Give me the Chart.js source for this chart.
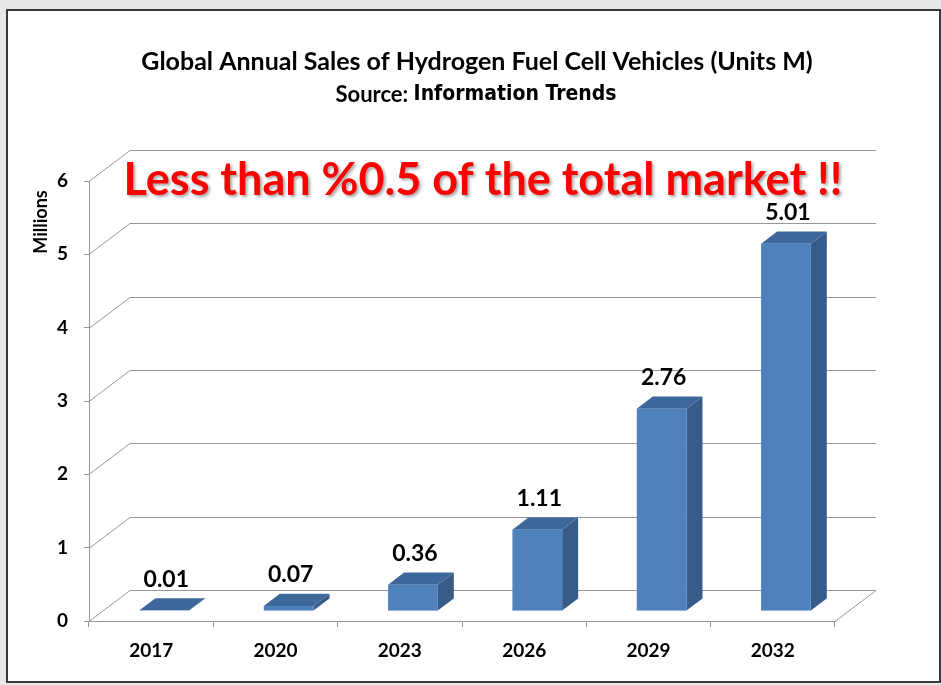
<!DOCTYPE html>
<html><head><meta charset="utf-8">
<script src="https://cdn.jsdelivr.net/npm/chart.js@4.4.1/dist/chart.umd.min.js"></script>
<style>
html,body{margin:0;padding:0;width:941px;height:685px;overflow:hidden;background:#e8e8e8;}
#frame{position:absolute;left:6px;top:9px;width:931px;height:670px;border:2px solid #3a3a3a;background:#fff;}
#wrap{position:absolute;left:0;top:0;width:941px;height:685px;}
</style></head><body>
<div id="frame"></div>
<div id="wrap"><canvas id="c" width="941" height="685"></canvas></div>
<script>
const categories = ['2017', '2020', '2023', '2026', '2029', '2032'];
const sales = [0.01, 0.07, 0.36, 1.11, 2.76, 5.01];
const yTicks = [0, 1, 2, 3, 4, 5, 6];
const titleText = 'Global Annual Sales of Hydrogen Fuel Cell Vehicles (Units M)';
const sourceLabel = 'Source: ';
const sourceName = 'Information Trends';
const noteText = 'Less than %0.5 of the total market !!';
const yAxisTitle = 'Millions';

const DX = 41, DY = -31;       // depth of the 3D box
const F0 = 0.32, F1 = 0.71;    // bar front / back depth fraction
const GRID = '#979797';

const threeD = {
  id: 'threeD',
  beforeDatasetsDraw(chart) {
    const ctx = chart.ctx, ca = chart.chartArea, y = chart.scales.y;
    ctx.save();
    ctx.strokeStyle = GRID; ctx.lineWidth = 1;
    ctx.beginPath();
    yTicks.forEach(v => {
      const py = Math.round(y.getPixelForValue(v)) + 0.5;
      ctx.moveTo(ca.left, py);
      ctx.lineTo(ca.left + DX, py + DY);
      ctx.lineTo(ca.right + DX, py + DY);
    });
    const pb = Math.round(y.getPixelForValue(0)) + 0.5;
    ctx.moveTo(ca.right, pb);
    ctx.lineTo(ca.right + DX, pb + DY);
    ctx.stroke();
    ctx.restore();
  },
  afterDatasetsDraw(chart) {
    const ctx = chart.ctx;
    const meta = chart.getDatasetMeta(0);
    const ddx = DX * (F1 - F0), ddy = DY * (F1 - F0);
    ctx.save();
    meta.data.forEach((el, i) => {
      const w = el.width;
      const x0 = el.x - w / 2 + DX * F0, x1 = el.x + w / 2 + DX * F0;
      const yT = el.y + DY * F0, yB = el.base + DY * F0;
      // side
      ctx.fillStyle = '#385c89';
      ctx.beginPath();
      ctx.moveTo(x1, yB); ctx.lineTo(x1 + ddx, yB + ddy);
      ctx.lineTo(x1 + ddx, yT + ddy); ctx.lineTo(x1, yT); ctx.closePath(); ctx.fill();
      // top
      ctx.fillStyle = '#3e679b';
      ctx.beginPath();
      ctx.moveTo(x0, yT); ctx.lineTo(x1, yT);
      ctx.lineTo(x1 + ddx, yT + ddy); ctx.lineTo(x0 + ddx, yT + ddy); ctx.closePath(); ctx.fill();
      // front
      ctx.fillStyle = '#4f81bd';
      ctx.fillRect(x0, yT, x1 - x0, yB - yT);
      // label
      ctx.fillStyle = '#000';
      ctx.font = 'bold 23px Lato';
      ctx.textAlign = 'center'; ctx.textBaseline = 'middle';
      ctx.fillText(sales[i].toFixed(2), (x0 + x1) / 2 + 2, yT + ddy - 19);
    });
    ctx.restore();
  },
  afterDraw(chart) {
    const ctx = chart.ctx;
    ctx.save();
    // source line
    ctx.textBaseline = 'middle'; ctx.textAlign = 'left'; ctx.fillStyle = '#000';
    ctx.font = 'bold 22px Lato';
    const w1 = ctx.measureText(sourceLabel).width;
    ctx.font = 'bold 21px "DejaVu Sans Condensed"';
    const w2 = ctx.measureText(sourceName).width;
    const sx = 476 - (w1 + w2) / 2;
    ctx.font = 'bold 22px Lato';
    ctx.fillText(sourceLabel, sx, 95);
    ctx.font = 'bold 21px "DejaVu Sans Condensed"';
    ctx.fillText(sourceName, sx + w1, 95);
    // note
    ctx.font = 'bold 45px Lato';
    ctx.textAlign = 'center';
    ctx.shadowColor = 'rgba(0,0,0,0.35)'; ctx.shadowOffsetX = 2; ctx.shadowOffsetY = 2; ctx.shadowBlur = 3;
    ctx.fillStyle = '#ff0000';
    ctx.fillText(noteText, 483, 180);
    ctx.shadowColor = 'transparent';
    // y axis title
    ctx.fillStyle = '#000';
    ctx.font = 'bold 18px Lato';
    ctx.translate(41, 222); ctx.rotate(-Math.PI / 2);
    ctx.fillText(yAxisTitle, 0, 0);
    ctx.restore();
  }
};

new Chart(document.getElementById('c'), {
  type: 'bar',
  data: {
    labels: categories,
    datasets: [{
      data: sales,
      backgroundColor: 'rgba(0,0,0,0)',
      borderWidth: 0,
      barPercentage: 0.4,
      categoryPercentage: 1.0
    }]
  },
  options: {
    responsive: false,
    devicePixelRatio: 1,
    animation: false,
    layout: { padding: { left: 13, right: 0, top: 0, bottom: 0 } },
    plugins: {
      legend: { display: false },
      tooltip: { enabled: false },
      title: {
        display: true,
        text: titleText,
        color: '#000',
        font: { family: 'Lato', size: 25, weight: 'bold', lineHeight: 1.2 },
        padding: { top: 47, bottom: 104 }
      }
    },
    scales: {
      x: {
        grid: { offset: true, drawOnChartArea: false, drawTicks: true, tickLength: 6, color: GRID },
        border: { color: GRID },
        ticks: { color: '#000', font: { family: 'Lato', size: 19, weight: 'bold' }, padding: 12 },
        afterFit(a) { a.height = 64; }
      },
      y: {
        min: 0, max: 6,
        afterBuildTicks(a) { a.ticks = yTicks.map(v => ({ value: v })); },
        grid: { drawOnChartArea: false, drawTicks: true, tickLength: 5, color: GRID },
        border: { color: GRID },
        ticks: { color: '#000', font: { family: 'Lato', size: 19, weight: 'bold' }, padding: 16 },
        afterFit(a) { a.width = 76; }
      },
      yR: {
        type: 'linear', position: 'right', display: true,
        grid: { display: false }, border: { display: false }, ticks: { display: false },
        afterFit(a) { a.width = 106; }
      }
    }
  },
  plugins: [threeD]
});
</script>
</body></html>
